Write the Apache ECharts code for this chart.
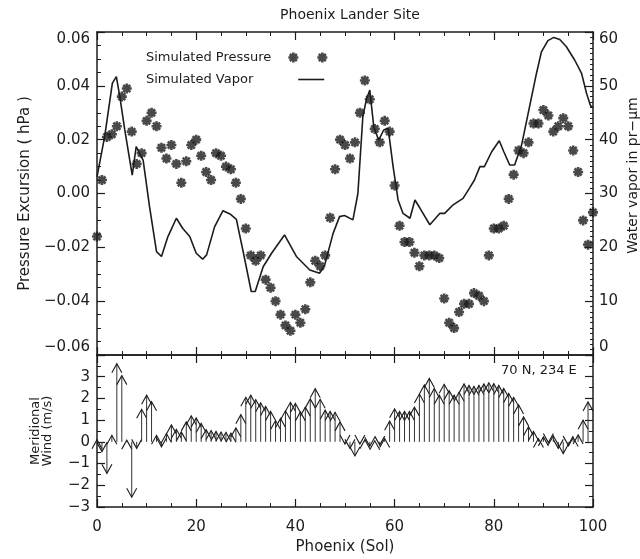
<!DOCTYPE html>
<html>
<head>
<meta charset="utf-8">
<title>Phoenix Lander Site</title>
<script src="https://cdn.jsdelivr.net/npm/echarts@6/dist/echarts.min.js"></script>
<style>
  html, body { margin: 0; padding: 0; background: #fff; }
  #main { width: 640px; height: 559px; }
</style>
</head>
<body>
<div id="main"></div>
<script>
// values
const pressureSol = [];
for (let s = 0; s <= 100; s++) pressureSol.push(s);
const pressureVal = [
  -0.016, 0.005, 0.021, 0.022, 0.025, 0.036, 0.039, 0.023, 0.011, 0.015,
  0.027, 0.030, 0.025, 0.017, 0.013, 0.018, 0.011, 0.004, 0.012, 0.018,
  0.020, 0.014, 0.008, 0.005, 0.015, 0.014, 0.010, 0.009, 0.004, -0.002,
  -0.013, -0.023, -0.025, -0.023, -0.032, -0.035, -0.040, -0.045, -0.049, -0.051,
  -0.045, -0.048, -0.043, -0.033, -0.025, -0.027, -0.023, -0.009, 0.009, 0.020,
  0.018, 0.013, 0.019, 0.030, 0.042, 0.035, 0.024, 0.019, 0.027, 0.023,
  0.003, -0.012, -0.018, -0.018, -0.022, -0.027, -0.023, -0.023, -0.023, -0.024,
  -0.039, -0.048, -0.050, -0.044, -0.041, -0.041, -0.037, -0.038, -0.040, -0.023,
  -0.013, -0.013, -0.012, -0.002, 0.007, 0.016, 0.015, 0.019, 0.026, 0.026,
  0.031, 0.029, 0.023, 0.025, 0.028, 0.025, 0.016, 0.008, -0.010, -0.019,
  -0.007
];

const vaporSol = [
  0, 1.55, 3.1, 3.9, 4.6, 5.6, 7.1, 7.9, 8.3, 9.3,
  10.6, 12.0, 13.0, 14.3, 16.0, 17.3, 18.7, 20.0, 21.3, 22.1,
  23.7, 25.4, 26.8, 28.1, 29.4, 31.1, 31.9, 33.5, 35.2, 37.8,
  40.2, 42.9, 44.9, 45.9, 47.6, 48.9, 49.9, 51.6, 52.6, 53.6,
  54.3, 55.0, 55.8, 56.8, 57.8, 58.7, 59.7, 60.7, 61.7, 63.1,
  64.1, 65.1, 67.1, 69.1, 70.1, 71.8, 73.8, 75.1, 76.1, 77.2,
  78.1, 79.6, 81.1, 82.0, 83.2, 84.2, 85.6, 87.2, 88.6, 89.6,
  90.9, 92.1, 93.3, 94.6, 96.3, 97.7, 98.7, 99.5, 100
];
const vaporVal = [
  33.1, 40.6, 50.5, 51.7, 48.0, 41.8, 33.4, 38.7, 38.4, 36.2,
  27.5, 19.2, 18.3, 22.0, 25.4, 23.5, 22.0, 18.9, 17.8, 18.6,
  23.8, 26.8, 26.2, 25.2, 19.5, 11.8, 11.8, 16.4, 18.9, 22.3,
  18.3, 15.8, 15.2, 16.7, 22.6, 25.7, 25.9, 25.1, 30.0, 44.3,
  47.4, 49.2, 42.4, 39.9, 41.8, 42.1, 35.0, 28.8, 26.3, 25.4,
  28.8, 27.3, 24.2, 26.3, 26.3, 27.9, 29.1, 31.0, 32.5, 35.0,
  35.0, 37.8, 39.8, 37.8, 35.3, 35.3, 39.0, 46.1, 52.3, 56.3,
  58.4, 59.0, 58.6, 57.3, 54.8, 52.3, 48.6, 46.3, 46.0
];

const windSol = [];
for (let s = 0; s <= 99; s++) windSol.push(s);
const windVal = [
  0.1, -0.45, -1.45, 0.3, 3.6, 3.05, 0.08, -2.55, -0.3, 1.5,
  2.15, 1.85, 0.3, -0.23, 0.38, 0.78, 0.58, 0.46, 0.92, 1.2,
  1.1, 0.85, 0.56, 0.52, 0.48, 0.45, 0.44, 0.4, 0.64, 1.25,
  2.05, 2.15, 1.95, 1.8, 1.63, 1.4, 0.98, 1.08, 1.43, 1.82,
  1.77, 1.38, 1.6, 1.98, 2.45, 1.96, 1.46, 1.4, 1.36, 0.92,
  -0.1, -0.3, -0.65, -0.1, 0.1, -0.2, 0.05, -0.15, 0.15, 0.95,
  1.52, 1.4, 1.4, 1.4, 1.6, 2.2, 2.62, 2.92, 2.46, 2.15,
  2.65, 2.36, 2.15, 2.28, 2.67, 2.6, 2.56, 2.6, 2.67, 2.72,
  2.68, 2.6, 2.46, 2.23, 2.05, 1.7, 1.15, 0.7, 0.48, 0.15,
  0.23, -0.03, 0.28, -0.3, -0.54, -0.15, 0.2, 0.32, 1.0, 1.84
];

const ink = '#1c1c1c';
const font = 'DejaVu Sans';

// asterisk marker (IDL psym=2 look): four bars plus a centre block
function star(cx) {
  const hw = 1.3, hl = 5;
  let d = '';
  [0, 45, 90, 135].forEach(a => {
    const c = Math.cos(a * Math.PI / 180), s = Math.sin(a * Math.PI / 180);
    const pts = [[-hl, -hw], [hl, -hw], [hl, hw], [-hl, hw]].map(p =>
      [(p[0] * c - p[1] * s + cx).toFixed(2), (p[0] * s + p[1] * c).toFixed(2)]);
    d += 'M' + pts.map(p => p.join(',')).join(' L') + ' Z ';
  });
  d += `M${cx - 2.5},-2.5 L${cx + 2.5},-2.5 L${cx + 2.5},2.5 L${cx - 2.5},2.5 Z`;
  return d;
}
const starSymbol = 'path://' + star(0);
const starPair = 'path://' + star(0) + ' ' + star(29);

function minus(s) { return String(s).replace('-', '\u2212'); }

function renderArrow(params, api) {
  const x = api.value(0), v = api.value(1);
  const base = api.coord([x, 0]);
  const tip = api.coord([x, v]);
  const back = tip[1] + (v >= 0 ? 9 : -9);
  return {
    type: 'group',
    children: [
      { type: 'line', shape: { x1: base[0], y1: base[1], x2: tip[0], y2: tip[1] },
        style: { stroke: '#333', lineWidth: 1 } },
      { type: 'polyline', shape: { points: [[tip[0] - 5, back], tip, [tip[0] + 5, back]] },
        style: { stroke: ink, lineWidth: 1.1, fill: null } }
    ]
  };
}

const frame = {
  type: 'value',
  nameMoveOverlap: false,
  axisLine: { show: true, onZero: false, lineStyle: { color: ink, width: 1.5 } },
  axisTick: { show: true, inside: true, length: 8, lineStyle: { color: ink, width: 1.2 } },
  minorTick: { show: true, splitNumber: 4, length: 4, lineStyle: { color: ink, width: 1 } },
  splitLine: { show: false },
  axisLabel: { show: false }
};
const tickText = { show: true, color: ink, fontFamily: font, fontSize: 15 };
const nameText = { color: ink, fontFamily: font, fontSize: 15 };

const chart = echarts.init(document.getElementById('main'));
chart.setOption({
  animation: false,
  backgroundColor: '#fff',
  title: [
    { text: 'Phoenix Lander Site', left: 345, textAlign: 'center', top: 3,
      textStyle: { color: ink, fontFamily: font, fontSize: 14, fontWeight: 'normal' } },
    { text: '70 N, 234 E', left: 496, top: 359,
      textStyle: { color: ink, fontFamily: font, fontSize: 13, fontWeight: 'normal' } }
  ],
  legend: [
    { data: [{ name: 'Simulated Pressure', icon: starPair }], left: 146, top: 51, padding: 0,
      align: 'right', itemWidth: 39, itemHeight: 10, selectedMode: false,
      textStyle: { color: ink, fontFamily: font, fontSize: 13, padding: [0, 12, 0, 0] } },
    { data: [{ name: 'Simulated Vapor', icon: 'rect' }], left: 146, top: 73, padding: 0,
      align: 'right', itemWidth: 26, itemHeight: 1.6, selectedMode: false,
      itemStyle: { color: ink },
      textStyle: { color: ink, fontFamily: font, fontSize: 13, padding: [0, 40, 0, 0] } }
  ],
  grid: [
    { left: 97, right: 47, top: 32, height: 323, outerBoundsMode: 'none' },
    { left: 97, right: 47, top: 355, height: 152, outerBoundsMode: 'none' }
  ],
  xAxis: [
    Object.assign({}, frame, { gridIndex: 0, position: 'bottom', min: 0, max: 100, interval: 20 }),
    Object.assign({}, frame, { gridIndex: 0, position: 'top', min: 0, max: 100, interval: 20 }),
    Object.assign({}, frame, { gridIndex: 1, position: 'bottom', min: 0, max: 100, interval: 20,
      axisLabel: Object.assign({ margin: 13 }, tickText),
      name: 'Phoenix (Sol)', nameLocation: 'middle', nameGap: 33, nameTextStyle: nameText }),
    Object.assign({}, frame, { gridIndex: 1, position: 'top', min: 0, max: 100, interval: 20 })
  ],
  yAxis: [
    Object.assign({}, frame, { gridIndex: 0, position: 'left', min: -0.06, max: 0.06, interval: 0.02,
      axisLabel: Object.assign({ margin: 7, verticalAlignMaxLabel: 'top', verticalAlignMinLabel: 'bottom',
        formatter: v => Math.abs(v) < 1e-9 ? '0.00' : minus(v.toFixed(2)) }, tickText),
      name: 'Pressure Excursion ( hPa )', nameLocation: 'middle', nameGap: 64, nameRotate: 90,
      nameTextStyle: nameText }),
    Object.assign({}, frame, { gridIndex: 0, position: 'right', min: 0, max: 60, interval: 10,
      minorTick: { show: true, splitNumber: 10, length: 3, lineStyle: { color: ink, width: 1 } },
      axisLabel: Object.assign({ margin: 6, verticalAlignMaxLabel: 'top', verticalAlignMinLabel: 'bottom' }, tickText),
      name: 'Water vapor in pr\u2212\u03bcm', nameLocation: 'middle', nameGap: 33, nameRotate: 90,
      nameTextStyle: Object.assign({}, nameText, { fontSize: 14, padding: [0, 0, 0, 36] }) }),
    Object.assign({}, frame, { gridIndex: 1, position: 'left', min: -3, max: 4, interval: 1,
      minorTick: { show: true, splitNumber: 2, length: 4, lineStyle: { color: ink, width: 1 } },
      axisLabel: Object.assign({ margin: 7, verticalAlignMaxLabel: 'top', formatter: v => minus(v) }, tickText),
      name: 'Meridional\nWind (m/s)', nameLocation: 'middle', nameGap: 43, nameRotate: 90,
      nameTextStyle: Object.assign({}, nameText, { fontSize: 13, lineHeight: 12 }) }),
    Object.assign({}, frame, { gridIndex: 1, position: 'right', min: -3, max: 4, interval: 1,
      minorTick: { show: true, splitNumber: 2, length: 4, lineStyle: { color: ink, width: 1 } } })
  ],
  series: [
    { name: 'Simulated Pressure', type: 'scatter', xAxisIndex: 0, yAxisIndex: 0,
      data: pressureSol.map((s, i) => [s, pressureVal[i]]),
      symbol: starSymbol, symbolSize: 10, itemStyle: { color: ink } },
    { name: 'Simulated Vapor', type: 'line', xAxisIndex: 0, yAxisIndex: 1,
      data: vaporSol.map((s, i) => [s, vaporVal[i]]),
      symbol: 'none', lineStyle: { color: ink, width: 1.6 }, itemStyle: { color: ink } },
    { name: 'Meridional Wind', type: 'custom', xAxisIndex: 2, yAxisIndex: 2,
      data: windSol.map((s, i) => [s, windVal[i]]),
      encode: { x: 0, y: 1 }, renderItem: renderArrow, clip: false }
  ]
});
</script>
</body>
</html>
